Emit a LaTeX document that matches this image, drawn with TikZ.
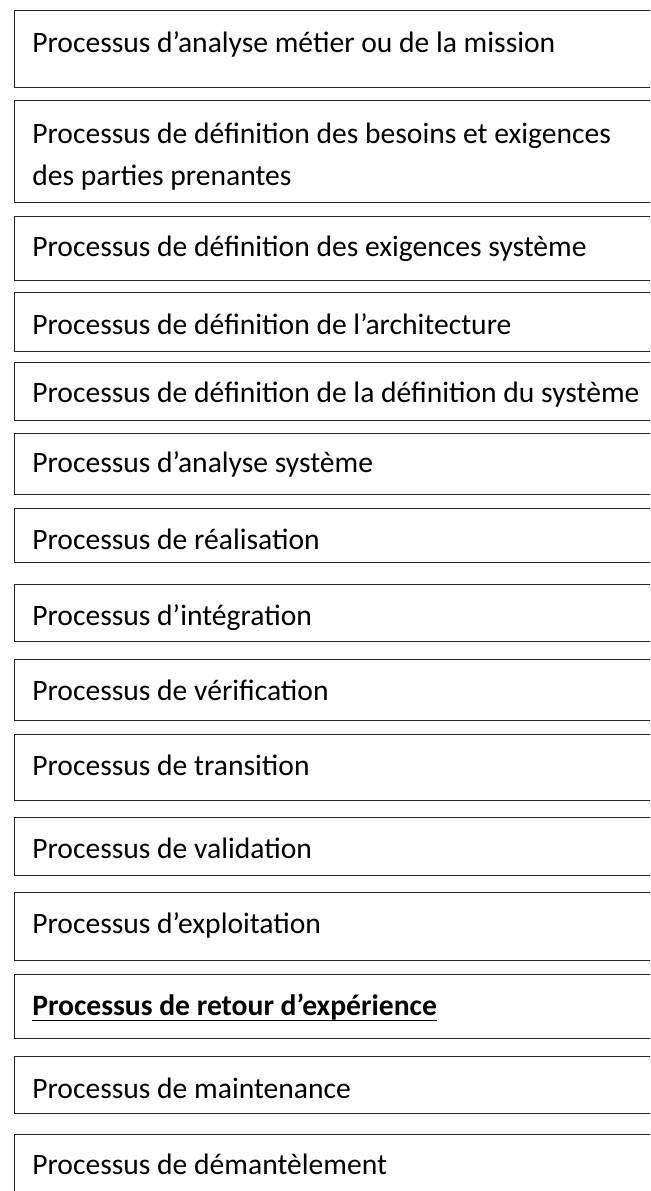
\documentclass[tikz,border=0pt]{standalone}
\usepackage{fontspec}
\setmainfont{Carlito}
\usetikzlibrary{positioning}
\tikzset{procbox/.style={rectangle,draw=black!85,line width=1.1pt,inner sep=0pt,anchor=north west,minimum width=500pt},proctext/.style={inner sep=0pt,anchor=base west,font=\fontsize{22.2}{27}\selectfont},every picture/.style={line cap=rect}}

\begin{document}
\begin{tikzpicture}[x=0.75pt,y=-0.75pt]
\useasboundingbox (0,0) rectangle (650,1191);
\clip (0,0) rectangle (650,1191);
\foreach \i/\t/\b/\s/\txt in {1/10/87/53/Processus d’analyse métier ou de la mission,
2/100/202/144/Processus de définition des besoins et exigences,
3/216/280/257/Processus de définition des exigences système,
4/292/351/334/Processus de définition de l’architecture,
5/362/420/402/Processus de définition de la définition du système,
6/433/494/472/Processus d’analyse système,
7/508/562/549/Processus de réalisation,
8/584/641/625/Processus d’intégration,
9/659/720/700/Processus de vérification,
10/734/800/775/Processus de transition,
11/817/875/858/Processus de validation,
12/892/960/933/Processus d’exploitation,
13/974/1038/1015/{\bfseries Processus de retour d’expérience},
14/1056/1113/1098/Processus de maintenance,
15/1134/1240/1174/Processus de démantèlement}{
\node[procbox,minimum height={(\b-\t)*0.75pt}] (b\i) at (13.5,\t) {};
\node[proctext] (t\i) at (32,\s) {\txt};
}
\node[proctext] (t2b) at ([yshift=-31.5pt]t2.base west) {des parties prenantes};
% underline of the bold entry
\draw[line width=1.2pt,line cap=butt] ([yshift=-4pt]t13.base west) -- ([yshift=-4pt]t13.base east);
\end{tikzpicture}
\end{document}
